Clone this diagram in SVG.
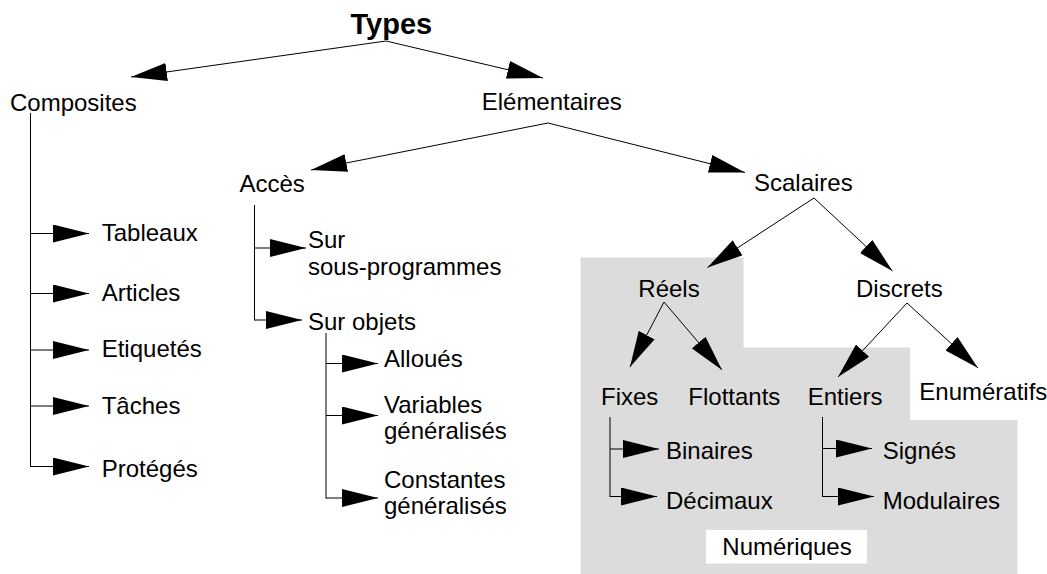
<svg xmlns="http://www.w3.org/2000/svg" width="1047" height="574" viewBox="0 0 1047 574">
  <style>
    text { font-family: "Liberation Sans", Arial, Helvetica, sans-serif; font-size: 24px; fill: #000; }
    .title { font-weight: bold; font-size: 29px; }
    .link { fill: none; stroke: #000; stroke-width: 1; }
    .arrow { marker-end: url(#head); }
  </style>
  <defs>
    <marker id="head" markerUnits="userSpaceOnUse" markerWidth="36" markerHeight="18" refX="36" refY="9" orient="auto">
      <path d="M0,0 L36,9 L0,18 z" fill="#000"/>
    </marker>
  </defs>

  <rect width="1047" height="574" fill="#fff"/>

  <!-- numeric types area -->
  <g id="zone-numeriques">
    <path d="M580.5,257.5 H743.5 V347.5 H910 V420 H1017.5 V574 H580.5 Z" fill="#dcdcdc"/>
    <rect x="706" y="530" width="161" height="33.5" fill="#fff"/>
    <text x="722.3" y="555">Numériques</text>
  </g>

  <!-- connectors -->
  <g id="connectors">
    <path class="link arrow" d="M386,41 L131,77"/>
    <path class="link arrow" d="M386,41 L543,78"/>
    <path class="link arrow" d="M548,123 L311,170"/>
    <path class="link arrow" d="M548,123 L745,172.5"/>
    <path class="link arrow" d="M814,198 L707.5,267.5"/>
    <path class="link arrow" d="M814,198 L892.5,271"/>
    <path class="link arrow" d="M664,302 L630,367"/>
    <path class="link arrow" d="M664,302 L722,370"/>
    <path class="link arrow" d="M907,303 L838,377"/>
    <path class="link arrow" d="M907,303 L978,368"/>

    <!-- Composites list -->
    <path class="link" d="M30.5,113 V467"/>
    <path class="link arrow" d="M30.5,233.5 H89"/>
    <path class="link arrow" d="M30.5,293.5 H89"/>
    <path class="link arrow" d="M30.5,350 H89"/>
    <path class="link arrow" d="M30.5,406 H89"/>
    <path class="link arrow" d="M30.5,466.5 H89"/>

    <!-- Accès list -->
    <path class="link" d="M254.5,205 V320.5"/>
    <path class="link arrow" d="M254.5,248 H306"/>
    <path class="link arrow" d="M254.5,320 H302"/>

    <!-- Sur objets list -->
    <path class="link" d="M326,333 V498.5"/>
    <path class="link arrow" d="M326,363.5 H378"/>
    <path class="link arrow" d="M326,415.5 H378"/>
    <path class="link arrow" d="M326,498 H378"/>

    <!-- Fixes list -->
    <path class="link" d="M610,417 V497"/>
    <path class="link arrow" d="M610,449 H659"/>
    <path class="link arrow" d="M610,496.5 H657"/>

    <!-- Entiers list -->
    <path class="link" d="M822.5,417 V497"/>
    <path class="link arrow" d="M822.5,448.5 H872"/>
    <path class="link arrow" d="M822.5,496.5 H874"/>
  </g>

  <!-- nodes -->
  <g id="types"><text class="title" x="350.5" y="33.5">Types</text></g>
  <g id="composites"><text x="10" y="111">Composites</text></g>
  <g id="elementaires"><text x="481.7" y="110">Elémentaires</text></g>
  <g id="acces"><text x="239.5" y="191.5">Accès</text></g>
  <g id="scalaires"><text x="754" y="190.5">Scalaires</text></g>

  <g id="tableaux"><text x="101.7" y="241">Tableaux</text></g>
  <g id="articles"><text x="101.7" y="300.5">Articles</text></g>
  <g id="etiquetes"><text x="101.7" y="357">Etiquetés</text></g>
  <g id="taches"><text x="101.7" y="413.5">Tâches</text></g>
  <g id="proteges"><text x="101.7" y="476.5">Protégés</text></g>

  <g id="sur-sous-programmes">
    <text x="308" y="247.5">Sur</text>
    <text x="308" y="275">sous-programmes</text>
  </g>
  <g id="sur-objets"><text x="308" y="330">Sur objets</text></g>
  <g id="alloues"><text x="384" y="366.5">Alloués</text></g>
  <g id="variables">
    <text x="384" y="413">Variables</text>
    <text x="384" y="438.5">généralisés</text>
  </g>
  <g id="constantes">
    <text x="384" y="488">Constantes</text>
    <text x="384" y="514">généralisés</text>
  </g>

  <g id="reels"><text x="638.3" y="297">Réels</text></g>
  <g id="discrets"><text x="856" y="297">Discrets</text></g>
  <g id="fixes"><text x="601" y="405">Fixes</text></g>
  <g id="flottants"><text x="688.3" y="405">Flottants</text></g>
  <g id="entiers"><text x="807.7" y="405">Entiers</text></g>
  <g id="enumeratifs"><text x="919.3" y="400">Enumératifs</text></g>
  <g id="binaires"><text x="666" y="458.5">Binaires</text></g>
  <g id="decimaux"><text x="666" y="508.5">Décimaux</text></g>
  <g id="signes"><text x="882.7" y="458.5">Signés</text></g>
  <g id="modulaires"><text x="882.7" y="508.5">Modulaires</text></g>
</svg>
